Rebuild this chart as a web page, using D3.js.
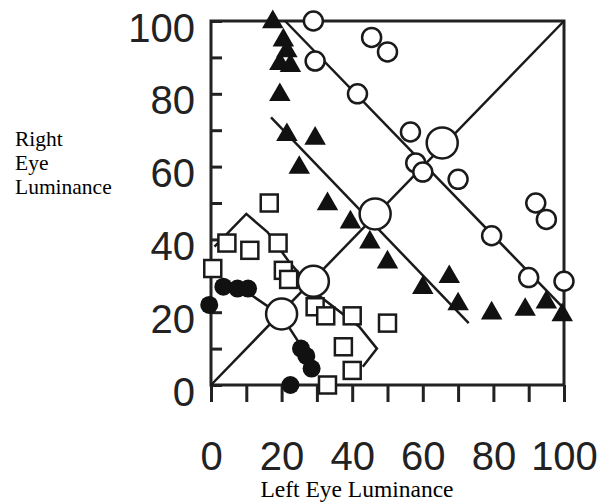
<!DOCTYPE html>
<html>
<head>
<meta charset="utf-8">
<script src="https://cdnjs.cloudflare.com/ajax/libs/d3/7.8.5/d3.min.js"></script>
<style>
    body { margin: 0; background: #fff; }
    svg { display: block; }
    .axis path { display: none; }
    .axis line { stroke: #222; stroke-width: 3; }
    .axis text { font-family: "Liberation Sans", Arial, sans-serif; font-size: 40px; fill: #222; }
    .title { font-family: "Liberation Serif", "Times New Roman", serif; font-size: 21.5px; fill: #000; }
    .xtitle { font-size: 23.5px; }
</style>
</head>
<body>
<div id="chart"></div>
<script>
"use strict";

// Tick values for both axes
var tickValues = [0, 10, 20, 30, 40, 50, 60, 70, 80, 90, 100];
var labelValues = [0, 20, 40, 60, 80, 100];

// Open circles (small) and their regression line
var openCircles = [[29, 100], [29.5, 89], [41.5, 80], [45.5, 95.5], [50, 91.5],
    [56.5, 69.5], [58, 61], [60, 58.5], [70, 56.5], [79.5, 41], [92, 50],
    [95, 45.5], [90, 29.5], [100, 28.5]];
var openLine = [[21, 100], [100, 21]];

// Filled triangles and their line
var triangles = [[17.5, 100], [20.5, 95], [21.5, 92], [19.5, 88.5], [22.5, 88],
    [19.5, 80], [21.5, 69], [29.5, 68], [25, 60], [33, 50], [39.5, 45],
    [45, 39.5], [50, 34], [60, 27], [67.5, 30], [70, 22.5], [79.5, 20],
    [89, 21], [95, 23], [99.5, 19.5]];
var triangleLine = [[17, 73.5], [73, 17]];

// Open squares and the outline joining them
var squares = [[16.5, 50], [4.5, 39], [11, 37], [19, 39], [0.5, 32], [20.5, 31.5],
    [22, 29], [29.5, 21.5], [32.5, 19], [40, 19], [50, 17], [37.5, 10.5],
    [40, 4], [33, 0]];
var squareLine = [[1, 38], [10, 47], [16, 42], [22, 34], [30, 25], [42, 16],
    [47, 10], [43, 5]];

// Filled circles and their line
var dots = [[-0.5, 22], [3.5, 27], [7.5, 26.5], [10.5, 26.5], [25.5, 10],
    [27, 8], [28.5, 4.5], [22.5, 0]];
var dotLine = [[2, 27], [11, 25], [20, 19], [26, 10], [29, 3]];

// Large open circles on the diagonal
var bigCircles = [[20, 19.5], [29, 28.5], [46.5, 47], [65.5, 66.5]];
var diagonal = [[0, 0], [100, 100]];

var width = 602, height = 503;
var xScale = d3.scaleLinear().domain([0, 100]).range([211, 564]);
var yScale = d3.scaleLinear().domain([0, 100]).range([385, 21]);

var svg = d3.select("#chart").append("svg")
    .attr("width", width)
    .attr("height", height);

var line = d3.line()
    .x(function(d) { return xScale(d[0]); })
    .y(function(d) { return yScale(d[1]); });

function fmt(d) { return labelValues.indexOf(d) >= 0 ? d : ""; }

// Left axis: ticks point inwards
var yAxis = d3.axisLeft(yScale)
    .tickValues(tickValues)
    .tickSize(-11)
    .tickPadding(16)
    .tickFormat(fmt);
svg.append("g")
    .attr("class", "axis")
    .attr("transform", "translate(" + xScale(0) + ",0)")
    .call(yAxis)
    .selectAll("text")
    .attr("dy", "0.5em");

// Bottom axis: ticks point outwards
var xAxis = d3.axisBottom(xScale)
    .tickValues(tickValues)
    .tickSize(17)
    .tickPadding(40)
    .tickFormat(fmt);
svg.append("g")
    .attr("class", "axis")
    .attr("transform", "translate(0," + yScale(0) + ")")
    .call(xAxis);

// Frame
svg.append("rect")
    .attr("x", xScale(0))
    .attr("y", yScale(100))
    .attr("width", xScale(100) - xScale(0))
    .attr("height", yScale(0) - yScale(100))
    .attr("fill", "none")
    .attr("stroke", "#222")
    .attr("stroke-width", 3);

// Lines
var lines = [diagonal, openLine, triangleLine, squareLine, dotLine];
svg.append("g").selectAll("path")
    .data(lines)
    .enter().append("path")
    .attr("d", line)
    .attr("fill", "none")
    .attr("stroke", "#1a1a1a")
    .attr("stroke-width", 2.5);

// Squares
var sq = 17;
svg.append("g").selectAll("rect")
    .data(squares)
    .enter().append("rect")
    .attr("x", function(d) { return xScale(d[0]) - sq / 2; })
    .attr("y", function(d) { return yScale(d[1]) - sq / 2; })
    .attr("width", sq)
    .attr("height", sq)
    .attr("fill", "#fff")
    .attr("stroke", "#1a1a1a")
    .attr("stroke-width", 2.5);

// Filled circles
svg.append("g").selectAll("circle")
    .data(dots)
    .enter().append("circle")
    .attr("cx", function(d) { return xScale(d[0]); })
    .attr("cy", function(d) { return yScale(d[1]); })
    .attr("r", 9)
    .attr("fill", "#111");

// Triangles
var tri = d3.symbol().type(d3.symbolTriangle).size(200);
svg.append("g").selectAll("path")
    .data(triangles)
    .enter().append("path")
    .attr("d", tri)
    .attr("transform", function(d) {
        return "translate(" + xScale(d[0]) + "," + (yScale(d[1]) + 1) + ")";
    })
    .attr("fill", "#111");

// Small open circles
svg.append("g").selectAll("circle")
    .data(openCircles)
    .enter().append("circle")
    .attr("cx", function(d) { return xScale(d[0]); })
    .attr("cy", function(d) { return yScale(d[1]); })
    .attr("r", 9.5)
    .attr("fill", "#fff")
    .attr("stroke", "#1a1a1a")
    .attr("stroke-width", 2.5);

// Large open circles
svg.append("g").selectAll("circle")
    .data(bigCircles)
    .enter().append("circle")
    .attr("cx", function(d) { return xScale(d[0]); })
    .attr("cy", function(d) { return yScale(d[1]); })
    .attr("r", 15.5)
    .attr("fill", "#fff")
    .attr("stroke", "#1a1a1a")
    .attr("stroke-width", 2.5);

// Axis titles, one text per line so they stack cleanly
["Right", "Eye", "Luminance"].forEach(function(t, i) {
    svg.append("text")
        .attr("class", "title")
        .attr("x", 15)
        .attr("y", 146 + i * 24)
        .text(t);
});

svg.append("text")
    .attr("class", "title xtitle")
    .attr("x", 357)
    .attr("y", 497)
    .attr("text-anchor", "middle")
    .text("Left Eye Luminance");
</script>
</body>
</html>
